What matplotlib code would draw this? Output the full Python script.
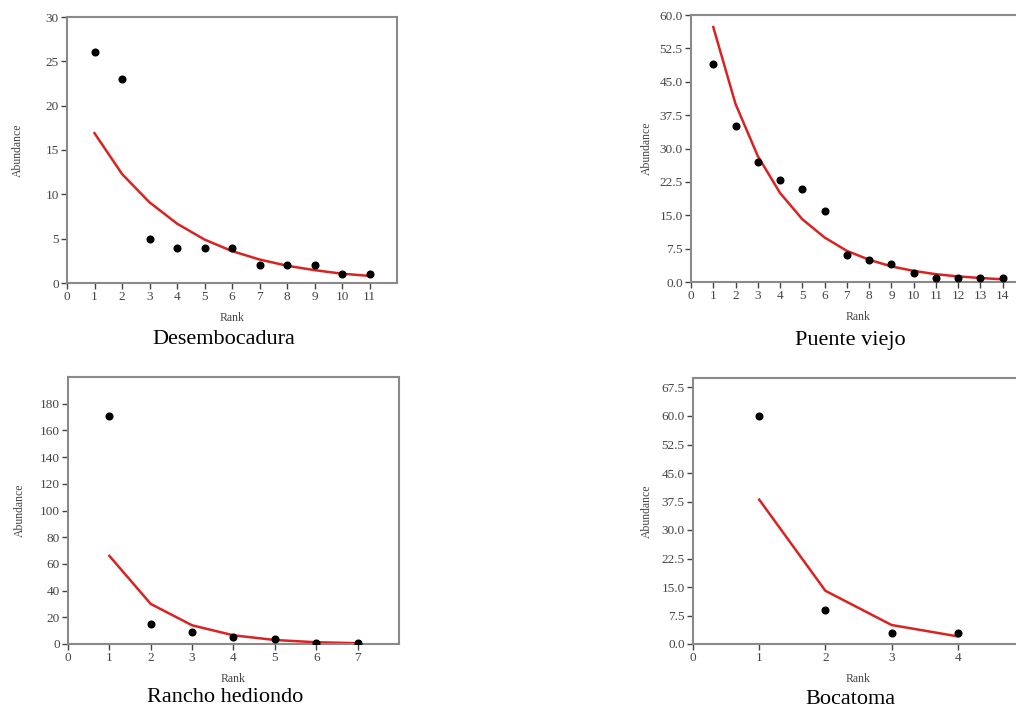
import matplotlib.pyplot as plt
from matplotlib.ticker import FormatStrFormatter

plt.rcParams['font.family'] = ['Liberation Serif', 'DejaVu Serif']

# Desembocadura
rank_des = list(range(1, 12))
obs_des = [26, 23, 5, 4, 4, 4, 2, 2, 2, 1, 1]
fit_des = [16.9, 12.3, 9.1, 6.7, 4.9, 3.6, 2.65, 1.95, 1.45, 1.05, 0.8]

# Puente viejo
rank_pue = list(range(1, 15))
obs_pue = [49, 35, 27, 23, 21, 16, 6, 5, 4, 2, 1, 1, 1, 1]
fit_pue = [57.3, 40.0, 28.3, 20.0, 14.1, 10.0, 7.0, 5.0, 3.5, 2.5, 1.75, 1.25, 0.9, 0.6]

# Rancho hediondo
rank_ran = list(range(1, 8))
obs_ran = [171, 15, 9, 5, 4, 1, 1]
fit_ran = [66, 30, 14, 6.5, 3, 1.3, 0.6]

# Bocatoma
rank_boc = list(range(1, 5))
obs_boc = [60, 9, 3, 3]
fit_boc = [38, 14, 5, 2]

W, H = 1016, 711
fig = plt.figure(figsize=(W / 100, H / 100), dpi=100)

frame_col = '#8a8a8a'
tick_col = '#444444'


def panel(box, ranks, obs, fit, xmax, ymax, yticks, yfmt, title, ylab_x, title_y):
    left, right, top, bottom = box
    ax = fig.add_axes([left / W, (H - bottom) / H, (right - left) / W, (bottom - top) / H])
    ax.plot(ranks, fit, color='#d92323', lw=1.8, zorder=2)
    ax.plot(ranks, obs, 'o', color='black', ms=4.8, zorder=3)
    ax.set_xlim(0, xmax)
    ax.set_ylim(0, ymax)
    ax.set_xticks(range(0, max(ranks) + 1))
    ax.set_yticks(yticks)
    ax.yaxis.set_major_formatter(FormatStrFormatter(yfmt))
    for s in ax.spines.values():
        s.set_color(frame_col)
        s.set_linewidth(1.5)
    ax.tick_params(direction='out', length=4, width=1, color=tick_col,
                   labelcolor=tick_col, labelsize=9.5, pad=2)
    cx = (left + right) / 2
    fig.text(cx / W, 1 - (bottom + 35) / H, 'Rank', ha='center', va='center',
             fontsize=8.5, color=tick_col)
    fig.text(ylab_x / W, 1 - ((top + bottom) / 2) / H, 'Abundance', ha='center',
             va='center', rotation=90, fontsize=8.5, color=tick_col)
    fig.text((cx - 8) / W, 1 - title_y / H, title, ha='center', va='center',
             fontsize=16, color='black')
    return ax


panel((67, 397, 17, 283), rank_des, obs_des, fit_des, 12, 30,
      range(0, 31, 5), '%d', 'Desembocadura', 18, 340)
panel((691, 1025, 15, 282), rank_pue, obs_pue, fit_pue, 15, 60,
      [i * 7.5 for i in range(9)], '%.1f', 'Puente viejo', 647, 340)
panel((68, 399, 377, 644), rank_ran, obs_ran, fit_ran, 8, 200,
      range(0, 181, 20), '%d', 'Rancho hediondo', 20, 697)
panel((693, 1024, 378, 644), rank_boc, obs_boc, fit_boc, 5, 70,
      [i * 7.5 for i in range(10)], '%.1f', 'Bocatoma', 647, 700)

fig.savefig('out.png', dpi=100)
